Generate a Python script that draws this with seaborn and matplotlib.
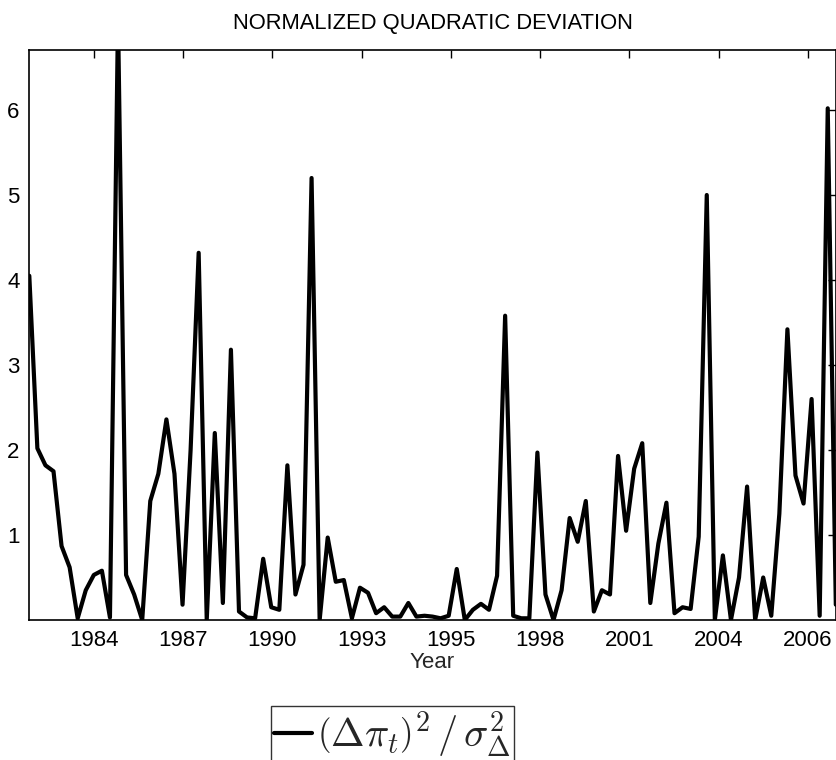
import numpy as np
import pandas as pd
import seaborn as sns
import matplotlib
matplotlib.use("Agg")
import matplotlib.pyplot as plt

# Quarterly observations, starting 1982 Q1
deviation = [4.05, 2.02, 1.82, 1.75, 0.87, 0.62, 0.02, 0.35, 0.53, 0.58,
             0.03, 7.10, 0.53, 0.30, 0.00, 1.40, 1.72, 2.36, 1.72, 0.18,
             2.00, 4.32, 0.00, 2.20, 0.20, 3.18, 0.10, 0.03, 0.02, 0.72,
             0.15, 0.12, 1.82, 0.30, 0.65, 5.20, 0.00, 0.97, 0.45, 0.47,
             0.02, 0.38, 0.32, 0.08, 0.15, 0.04, 0.04, 0.20, 0.04, 0.05,
             0.04, 0.02, 0.05, 0.60, 0.00, 0.12, 0.19, 0.12, 0.52, 3.58,
             0.05, 0.02, 0.02, 1.97, 0.30, 0.00, 0.35, 1.20, 0.92, 1.40,
             0.10, 0.35, 0.30, 1.93, 1.05, 1.78, 2.08, 0.20, 0.90, 1.38,
             0.08, 0.15, 0.13, 0.98, 5.00, 0.00, 0.76, 0.00, 0.50, 1.57,
             0.00, 0.50, 0.05, 1.25, 3.42, 1.70, 1.37, 2.60, 0.05, 6.02,
             0.18]
start_year = 1982.0
time = [start_year + 0.25 * i for i in range(len(deviation))]

tick_positions = [1984.0 + 2.7675 * k for k in range(9)]
tick_labels = ["1984", "1987", "1990", "1993", "1995", "1998", "2001", "2004", "2006"]
y_ticks = [1, 2, 3, 4, 5, 6]

df = pd.DataFrame({"Year": time, "dev": deviation})

sns.set_style("white")
plt.rcParams["font.family"] = ["Liberation Sans", "DejaVu Sans"]
plt.rcParams["mathtext.fontset"] = "cm"

fig = plt.figure(figsize=(8.37, 7.60), dpi=100)
ax = fig.add_axes([29.3 / 837, 1 - 620 / 760, (835.8 - 29.3) / 837, (620 - 50) / 760])

sns.lineplot(data=df, x="Year", y="dev", color="black", linewidth=3.0,
             ax=ax, legend=False)

ax.set_xlim(time[0], time[-1])
ax.set_ylim(0.0, 6.706)
ax.set_xticks(tick_positions)
ax.set_xticklabels(tick_labels)
ax.set_yticks(y_ticks)
ax.set_yticklabels([str(v) for v in y_ticks])
ax.tick_params(direction="in", length=6, width=1, top=True, right=True,
               labelsize=16, colors="black", pad=7)
for s in ax.spines.values():
    s.set_visible(True)
    s.set_color("black")
    s.set_linewidth(1.2)

ax.set_xlabel("Year", fontsize=16, labelpad=1)
ax.set_ylabel("")
ax.set_title("NORMALIZED QUADRATIC DEVIATION", fontsize=15.8, pad=15, color="black")

leg = fig.legend(handles=ax.get_lines()[:1],
                 labels=[r"$\left(\Delta\pi_t\right)^2\,/\,\sigma_\Delta^2$"],
                 loc="upper center", bbox_to_anchor=(392.5 / 837, 1 - 706 / 760),
                 fontsize=29, frameon=True, fancybox=False, handlelength=0.95,
                 handletextpad=0.12, borderpad=0.08, borderaxespad=0)
leg.get_frame().set_edgecolor("black")
leg.get_frame().set_linewidth(1.0)

fig.savefig("out.png", dpi=100, facecolor="white")
